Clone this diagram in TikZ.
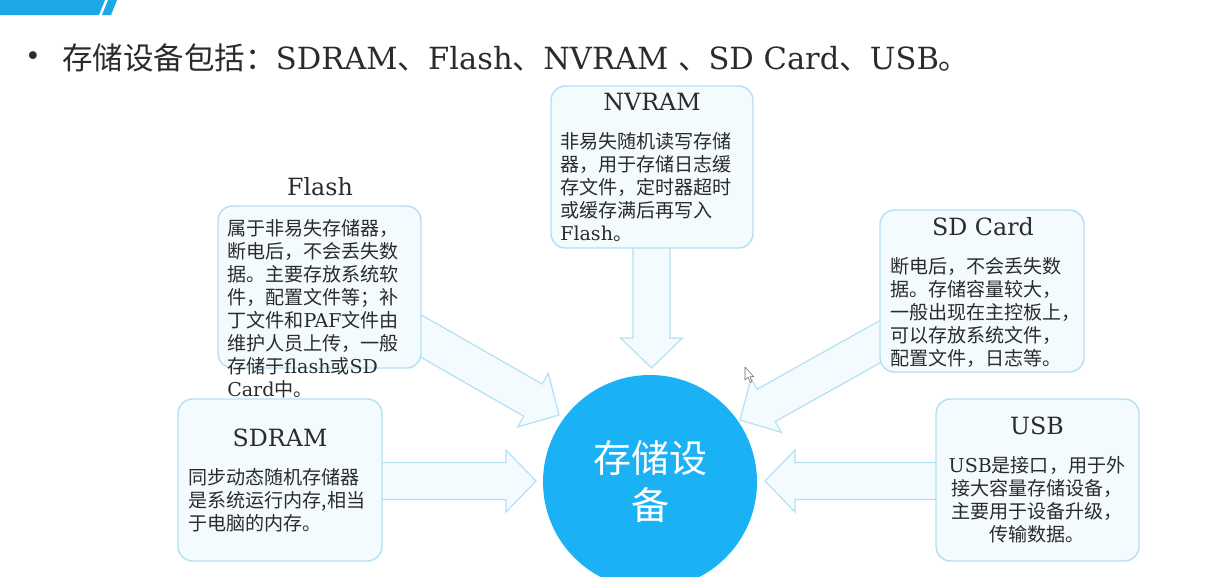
\documentclass[tikz,border=0pt]{standalone}
\usepackage{fontspec}
\setmainfont{Noto Sans CJK SC}
\newfontfamily\ser{DejaVu Serif}
\newfontfamily\dvs{DejaVu Sans}
\usetikzlibrary{calc,fit}
\definecolor{boxfill}{HTML}{F4FBFE}
\definecolor{boxline}{HTML}{B3E0F4}
\definecolor{cblue}{HTML}{1AB2F5}
\definecolor{barblue}{HTML}{1CA8E6}
\definecolor{txt}{HTML}{2B2B2B}
\newcommand\blockarrow[2]{%
  \coordinate (h) at ($(#2)!22.5pt!(#1)$);
  \filldraw[barrow] ($(#1)!13.9pt!90:(#2)$) -- ($(h)!13.9pt!90:(#2)$) -- ($(h)!23.25pt!90:(#2)$) -- (#2)
     -- ($(h)!23.25pt!-90:(#2)$) -- ($(h)!13.9pt!-90:(#2)$) -- ($(#1)!13.9pt!-90:(#2)$);
}
\begin{document}
\begin{tikzpicture}[x=0.75pt,y=-0.75pt,
  box/.style={draw=boxline, fill=boxfill, line width=1.1pt, rounded corners=11pt, inner sep=0pt},
  ttl/.style={font=\ser\fontsize{17.8pt}{20pt}\selectfont, text=txt, inner sep=0pt},
  body/.style={font=\fontsize{14.3pt}{17.25pt}\selectfont, text=txt, align=left, inner sep=0pt, anchor=north west},
  barrow/.style={draw=boxline, fill=boxfill, line width=0.9pt, line join=miter}]
\useasboundingbox (0,0) rectangle (1211,576);
% top bar
\fill[barblue] (0,0) -- (105,0) -- (99,15) -- (0,15) -- cycle;
\fill[barblue] (108,0) -- (117,0) -- (111,15) -- (102,15) -- cycle;
% title
\node[inner sep=0pt, text=txt, font=\dvs\fontsize{20pt}{24pt}\selectfont] (bul) at (33,59) {•};
\node[anchor=west, inner sep=0pt, text=txt, font=\fontsize{22.9pt}{27pt}\selectfont] (head) at (62,58)
  {存储设备包括：{\ser SDRAM}、{\ser Flash}、{\ser NVRAM }、{\ser SD Card}、{\ser USB}。};
% central circle
\node[circle, fill=cblue, minimum size=160.5pt, inner sep=0pt, text=white, align=center,
      font=\fontsize{28.5pt}{35.25pt}\selectfont] (dev) at (650,482) {存储设\\备};
% arrow end points
\coordinate (fs) at (400,324);  \coordinate (ft) at (559,415);
\coordinate (ns) at (651.5,240); \coordinate (nt) at (651.5,368);
\coordinate (cs) at (900,330.5); \coordinate (ct) at (740,420);
\coordinate (ss) at (370,481);  \coordinate (st) at (536,481);
\coordinate (us) at (950,481);  \coordinate (ut) at (765,481);
\blockarrow{fs}{ft}
\blockarrow{ns}{nt}
\blockarrow{cs}{ct}
\blockarrow{ss}{st}
\blockarrow{us}{ut}
% boxes
\node[box, fit={(218,206) (421,368)}] (flash) {};
\node[box, fit={(551,86) (753,248)}] (nvram) {};
\node[box, fit={(880,210) (1084,372)}] (sdcard) {};
\node[box, fit={(178,399) (382,561)}] (sdram) {};
\node[box, fit={(936,399) (1139,561)}] (usb) {};
% titles
\node[ttl] (flasht) at (320,187) {Flash};
\node[ttl] (nvramt) at (652,102) {NVRAM};
\node[ttl] (sdcardt) at (983,227) {SD Card};
\node[ttl] (sdramt) at (280,438) {SDRAM};
\node[ttl] (usbt) at (1037,426) {USB};
% bodies
\node[body] (flashb) at (227,219) {属于非易失存储器，\\断电后，不会丢失数\\据。主要存放系统软\\件，配置文件等；补\\丁文件和{\ser PAF}文件由\\维护人员上传，一般\\存储于{\ser flash}或{\ser SD}\\{\ser Card}中。};
\node[body] (nvramb) at (560,132) {非易失随机读写存储\\器，用于存储日志缓\\存文件，定时器超时\\或缓存满后再写入\\{\ser Flash}。};
\node[body] (sdcardb) at (890,257) {断电后，不会丢失数\\据。存储容量较大，\\一般出现在主控板上，\\可以存放系统文件，\\配置文件，日志等。};
\node[body] (sdramb) at (188,468) {同步动态随机存储器\\是系统运行内存,相当\\于电脑的内存。};
\node[body, align=center, anchor=north] (usbb) at (1037,456) {{\ser USB}是接口，用于外\\接大容量存储设备，\\主要用于设备升级，\\传输数据。};
% mouse pointer
\draw[black!60, fill=white, line width=0.4pt, line join=round] (745,367) -- (745,380) -- (748,377.2) -- (750.3,382.5) -- (752,381.8) -- (749.8,376.6) -- (753.6,376.6) -- cycle;
\end{tikzpicture}
\end{document}
